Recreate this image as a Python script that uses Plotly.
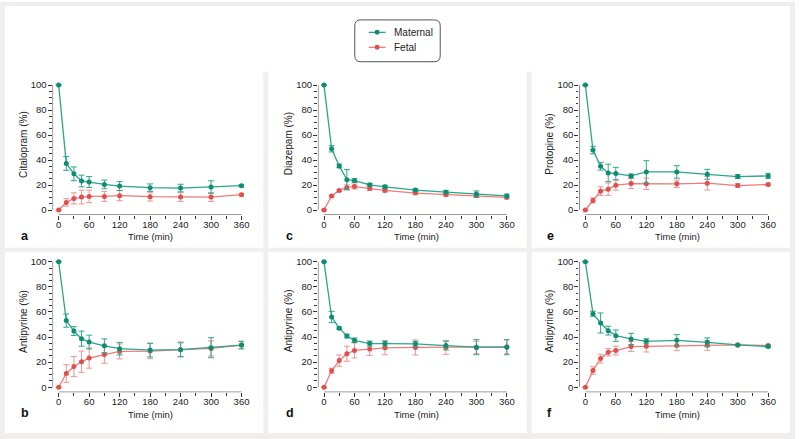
import plotly.graph_objects as go

# ---------------- data ----------------
time_min = [0, 15, 30, 45, 60, 90, 120, 180, 240, 300, 360]
x_ticks = [0, 60, 120, 180, 240, 300, 360]
y_ticks = [0, 20, 40, 60, 80, 100]

panel_letters = ["a", "b", "c", "d", "e", "f"]
y_titles = ["Citalopram (%)", "Antipyrine (%)", "Diazepam (%)",
            "Antipyrine (%)", "Protopine (%)", "Antipyrine (%)"]
series_names = ["Maternal", "Fetal"]

maternal_a = [100, 37.3, 29.0, 23.2, 22.4, 20.5, 19.2, 17.9, 17.6, 18.4, 19.5]
maternal_a_err = [0, 5.5, 5.5, 4.7, 4.4, 3.5, 3.5, 3.0, 3.0, 5.0, 0.8]
fetal_a = [0, 6.1, 9.3, 10.4, 10.9, 10.9, 11.5, 10.7, 10.4, 10.4, 12.3]
fetal_a_err = [0, 3.0, 4.5, 5.5, 5.0, 4.0, 4.0, 3.5, 3.5, 3.5, 1.0]

maternal_b = [100, 53.1, 44.8, 38.7, 36.0, 33.0, 30.7, 29.6, 29.9, 31.5, 33.6]
maternal_b_err = [0, 5.3, 3.5, 6.0, 5.5, 5.5, 5.0, 5.5, 5.5, 8.0, 3.0]
fetal_b = [0, 10.9, 16.5, 20.3, 23.2, 26.1, 28.5, 28.8, 30.1, 30.9, 33.6]
fetal_b_err = [0, 7.0, 8.0, 8.5, 8.0, 7.0, 6.0, 6.0, 6.0, 6.0, 3.0]

maternal_c = [100, 49.0, 35.3, 24.3, 23.6, 20.2, 18.6, 16.0, 14.4, 12.8, 11.3]
maternal_c_err = [0, 2.5, 1.5, 8.0, 1.5, 1.0, 1.2, 1.0, 1.0, 2.5, 1.5]
fetal_c = [0, 11.3, 15.7, 18.1, 18.8, 17.3, 15.7, 13.6, 12.3, 11.5, 10.2]
fetal_c_err = [0, 0.8, 0.8, 2.0, 2.0, 1.5, 1.2, 1.0, 1.0, 1.5, 1.5]

maternal_d = [100, 56.0, 47.1, 40.8, 37.4, 34.8, 34.8, 34.6, 33.2, 31.9, 31.9]
maternal_d_err = [0, 4.5, 1.0, 1.5, 1.8, 2.0, 2.0, 2.0, 3.5, 6.0, 6.0]
fetal_d = [0, 13.1, 21.2, 26.7, 29.3, 30.4, 31.4, 31.7, 31.7, 31.7, 32.2]
fetal_d_err = [0, 2.0, 4.5, 6.0, 6.0, 5.0, 5.5, 6.0, 5.5, 5.0, 5.5]

maternal_e = [100, 48.0, 35.0, 29.7, 29.2, 27.3, 30.5, 30.5, 28.6, 26.8, 27.3]
maternal_e_err = [0, 3.0, 3.0, 7.0, 5.0, 1.5, 9.0, 5.0, 4.0, 1.5, 2.0]
fetal_e = [0, 7.7, 15.1, 16.7, 19.9, 21.2, 21.0, 21.0, 21.5, 19.6, 20.4]
fetal_e_err = [0, 2.0, 3.5, 5.0, 4.0, 4.0, 4.5, 3.0, 5.5, 1.5, 1.0]

maternal_f = [100, 58.6, 51.2, 45.1, 41.1, 38.5, 36.6, 37.4, 35.8, 33.7, 32.4]
maternal_f_err = [0, 2.0, 8.0, 3.5, 4.5, 4.5, 2.0, 4.5, 3.5, 0.5, 0.8]
fetal_f = [0, 13.3, 22.8, 27.9, 29.2, 32.4, 32.6, 33.2, 33.4, 33.7, 33.2]
fetal_f_err = [0, 3.0, 3.5, 3.0, 3.5, 4.0, 4.5, 4.0, 4.0, 0.5, 0.8]

maternal = [maternal_a, maternal_b, maternal_c, maternal_d, maternal_e, maternal_f]
maternal_err = [maternal_a_err, maternal_b_err, maternal_c_err,
                maternal_d_err, maternal_e_err, maternal_f_err]
fetal = [fetal_a, fetal_b, fetal_c, fetal_d, fetal_e, fetal_f]
fetal_err = [fetal_a_err, fetal_b_err, fetal_c_err,
             fetal_d_err, fetal_e_err, fetal_f_err]

# ---------------- styling / layout ----------------
W, H = 800, 439
MAT_MARK, MAT_LINE, MAT_ERR = "#0e8d72", "#2aa68a", "#2fa78c"
FET_MARK, FET_LINE, FET_ERR = "#df4f4d", "#ec7c78", "#ef9490"
GRAY = "#f0efed"
FONT = "Liberation Sans, Arial, sans-serif"


def px(x):
    return x / W


def py(y):
    return 1 - y / H


col_left = [52.9, 319.9, 582.9]
col_right = [245.6, 512.6, 775.6]
row_bottom = [214.0, 392.0]
row_top = [79.7, 257.2]
X_RANGE = [-12, 365]
Y_RANGE = [-4, 103]

fig = go.Figure()
shapes = []
annotations = []
layout_axes = {}

for i in range(6):
    col = i // 2
    row = i % 2
    n = i + 1
    xa = "x" if n == 1 else f"x{n}"
    ya = "y" if n == 1 else f"y{n}"
    xkey = "xaxis" if n == 1 else f"xaxis{n}"
    ykey = "yaxis" if n == 1 else f"yaxis{n}"

    layout_axes[xkey] = dict(
        domain=[px(col_left[col]), px(col_right[col])],
        anchor=ya, range=X_RANGE, showgrid=False, zeroline=False,
        showline=False, tickmode="array", tickvals=x_ticks,
        ticks="outside", ticklen=3.5, tickwidth=1, tickcolor="#333",
        ticklabelstandoff=-3,
        tickfont=dict(family=FONT, size=9.5, color="#222"),
        minor=dict(tickmode="linear", tick0=0, dtick=30, ticks="outside",
                   ticklen=2.5, tickwidth=1, tickcolor="#333"),
        fixedrange=True,
    )
    layout_axes[ykey] = dict(
        domain=[py(row_bottom[row]), py(row_top[row])],
        anchor=xa, range=Y_RANGE, showgrid=False, zeroline=False,
        showline=False, tickmode="array", tickvals=y_ticks,
        ticks="outside", ticklen=4, tickwidth=1, tickcolor="#333",
        ticklabelstandoff=-1,
        tickfont=dict(family=FONT, size=9.5, color="#222"),
        minor=dict(tickmode="linear", tick0=0, dtick=5, ticks="outside",
                   ticklen=2.5, tickwidth=1, tickcolor="#333"),
        fixedrange=True,
    )

    shapes.append(dict(type="line", xref=xa, yref=ya, x0=X_RANGE[0], x1=X_RANGE[0],
                       y0=0, y1=100, line=dict(color="#333", width=1)))
    shapes.append(dict(type="line", xref=xa, yref=ya, x0=0, x1=360,
                       y0=Y_RANGE[0], y1=Y_RANGE[0], line=dict(color="#333", width=1)))

    fig.add_trace(go.Scatter(
        x=time_min, y=fetal[i], mode="lines+markers", name=series_names[1],
        xaxis=xa, yaxis=ya, showlegend=False,
        line=dict(color=FET_LINE, width=1.3),
        marker=dict(color=FET_MARK, size=5),
        error_y=dict(type="data", array=fetal_err[i], visible=True,
                     color=FET_ERR, thickness=1, width=3),
        cliponaxis=False,
    ))
    fig.add_trace(go.Scatter(
        x=time_min, y=maternal[i], mode="lines+markers", name=series_names[0],
        xaxis=xa, yaxis=ya, showlegend=False,
        line=dict(color=MAT_LINE, width=1.3),
        marker=dict(color=MAT_MARK, size=5),
        error_y=dict(type="data", array=maternal_err[i], visible=True,
                     color=MAT_ERR, thickness=1, width=3),
        cliponaxis=False,
    ))

    cx = col_left[col] - 30
    cy = (row_top[row] + row_bottom[row]) / 2 - 4
    annotations.append(dict(x=px(cx), y=py(cy), xref="paper", yref="paper",
                            text=y_titles[i], textangle=-90, showarrow=False,
                            font=dict(family=FONT, size=10, color="#222"),
                            xanchor="center", yanchor="middle"))
    annotations.append(dict(x=px(col_left[col] + 99), y=py(row_bottom[row] + 22),
                            xref="paper", yref="paper", text="Time (min)",
                            showarrow=False,
                            font=dict(family=FONT, size=9.5, color="#222"),
                            xanchor="center", yanchor="middle"))
    annotations.append(dict(x=px(col_left[col] - 34), y=py(row_bottom[row] + 21),
                            xref="paper", yref="paper", text=f"<b>{panel_letters[i]}</b>",
                            showarrow=False,
                            font=dict(family=FONT, size=12.5, color="#111"),
                            xanchor="left", yanchor="middle"))


def rect(x0, y0, x1, y1):
    return dict(type="rect", xref="paper", yref="paper", layer="below",
                x0=px(x0), x1=px(x1), y0=py(y1), y1=py(y0),
                fillcolor=GRAY, line=dict(width=0))


shapes += [
    rect(0, 0, 5, H), rect(0, 0, W, 4), rect(795, 0, W, H), rect(0, 433, W, H),
    rect(265, 70, 270, 433), rect(530, 70, 535, 433), rect(5, 247, 795, 251),
]

# legend (drawn manually, rounded box)
lx0, lx1, ly0, ly1, r = 357, 443, 18, 60, 6
path = (f"M {px(lx0 + r)},{py(ly0)} L {px(lx1 - r)},{py(ly0)} "
        f"Q {px(lx1)},{py(ly0)} {px(lx1)},{py(ly0 + r)} "
        f"L {px(lx1)},{py(ly1 - r)} Q {px(lx1)},{py(ly1)} {px(lx1 - r)},{py(ly1)} "
        f"L {px(lx0 + r)},{py(ly1)} Q {px(lx0)},{py(ly1)} {px(lx0)},{py(ly1 - r)} "
        f"L {px(lx0)},{py(ly0 + r)} Q {px(lx0)},{py(ly0)} {px(lx0 + r)},{py(ly0)} Z")
shapes.append(dict(type="path", xref="paper", yref="paper", path=path,
                   line=dict(color="#555", width=1)))

legend_rows = [(series_names[0], MAT_LINE, MAT_MARK, 30.5),
               (series_names[1], FET_LINE, FET_MARK, 45.5)]
for name, lc, mc, yy in legend_rows:
    shapes.append(dict(type="line", xref="paper", yref="paper",
                       x0=px(371), x1=px(388), y0=py(yy), y1=py(yy),
                       line=dict(color=lc, width=1.3)))
    shapes.append(dict(type="circle", xref="paper", yref="paper",
                       x0=px(377), x1=px(382), y0=py(yy + 2.5), y1=py(yy - 2.5),
                       fillcolor=mc, line=dict(width=0)))
    annotations.append(dict(x=px(394), y=py(yy), xref="paper", yref="paper",
                            text=name, showarrow=False, xanchor="left",
                            yanchor="middle",
                            font=dict(family=FONT, size=10, color="#222")))

fig.update_layout(
    width=W, height=H, margin=dict(l=0, r=0, t=0, b=0),
    paper_bgcolor="white", plot_bgcolor="rgba(0,0,0,0)",
    showlegend=False,
    shapes=shapes, annotations=annotations,
    **layout_axes,
)

fig.write_html("out.html", config={"displayModeBar": False},
               post_script="document.body.style.margin='0';"
                           "document.body.style.overflow='hidden';")
